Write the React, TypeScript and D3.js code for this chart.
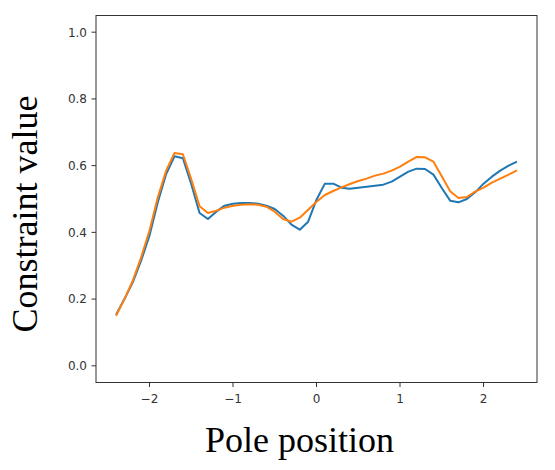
import React from "react";
import * as d3 from "d3";

const xs: number[] = [
  -2.4, -2.3, -2.2, -2.1, -2.0, -1.9, -1.8, -1.7, -1.6, -1.5, -1.4, -1.3, -1.2,
  -1.1, -1.0, -0.9, -0.8, -0.7, -0.6, -0.5, -0.4, -0.3, -0.2, -0.1, 0.0, 0.1,
  0.2, 0.3, 0.4, 0.5, 0.6, 0.7, 0.8, 0.9, 1.0, 1.1, 1.2, 1.3, 1.4, 1.5, 1.6,
  1.7, 1.8, 1.9, 2.0, 2.1, 2.2, 2.3, 2.4,
];

const blueSeries: number[] = [
  0.153, 0.2, 0.25, 0.315, 0.39, 0.49, 0.575, 0.628, 0.622, 0.545, 0.458, 0.44,
  0.462, 0.48, 0.486, 0.488, 0.488, 0.486, 0.48, 0.47, 0.45, 0.423, 0.408,
  0.432, 0.498, 0.546, 0.546, 0.534, 0.531, 0.534, 0.537, 0.54, 0.543, 0.552,
  0.567, 0.582, 0.591, 0.59, 0.573, 0.533, 0.495, 0.49, 0.5, 0.52, 0.546,
  0.567, 0.585, 0.6, 0.612,
];

const orangeSeries: number[] = [
  0.15, 0.2, 0.255, 0.325, 0.405, 0.505, 0.585, 0.638, 0.634, 0.56, 0.478,
  0.458, 0.465, 0.474, 0.48, 0.483, 0.484, 0.483, 0.477, 0.462, 0.44, 0.432,
  0.444, 0.468, 0.492, 0.512, 0.524, 0.535, 0.545, 0.554, 0.561, 0.57, 0.576,
  0.585, 0.597, 0.612, 0.626, 0.625, 0.612, 0.568, 0.523, 0.503, 0.506, 0.522,
  0.534, 0.549, 0.561, 0.573, 0.586,
];

const xTicks: number[] = [-2, -1, 0, 1, 2];
const yTicks: number[] = [0.0, 0.2, 0.4, 0.6, 0.8, 1.0];

const xLabel = "Pole position";
const yLabel = "Constraint value";

export default function App() {
  const W = 555;
  const H = 470;
  const left = 96;
  const right = 537;
  const top = 15.5;
  const bottom = 382.5;

  const x = d3.scaleLinear().domain([-2.64, 2.64]).range([left, right]);
  const y = d3.scaleLinear().domain([-0.05, 1.05]).range([bottom, top]);

  const line = d3
    .line<number>()
    .x((_, i) => x(xs[i]))
    .y((d) => y(d));

  const tickColor = "#333";
  const fmtX = (v: number) => (v < 0 ? "\u2212" + Math.abs(v) : String(v));

  return (
    <svg
      width={W}
      height={H}
      style={{ position: "absolute", left: 0, top: 0, background: "#fff" }}
    >
      <rect x={0} y={0} width={W} height={H} fill="#fff" />
      <path
        d={line(blueSeries) || ""}
        fill="none"
        stroke="#1f77b4"
        strokeWidth={2}
        strokeLinejoin="round"
      />
      <path
        d={line(orangeSeries) || ""}
        fill="none"
        stroke="#ff7f0e"
        strokeWidth={2}
        strokeLinejoin="round"
      />
      <rect
        x={left}
        y={top}
        width={right - left}
        height={bottom - top}
        fill="none"
        stroke={tickColor}
        strokeWidth={1}
      />
      {yTicks.map((t) => (
        <g key={"y" + t}>
          <line
            x1={left - 4.5}
            x2={left}
            y1={y(t)}
            y2={y(t)}
            stroke={tickColor}
            strokeWidth={1}
          />
          <text
            x={left - 9}
            y={y(t)}
            dy="0.36em"
            textAnchor="end"
            fontFamily="DejaVu Sans"
            fontSize={12}
            fill={tickColor}
          >
            {t.toFixed(1)}
          </text>
        </g>
      ))}
      {xTicks.map((t) => (
        <g key={"x" + t}>
          <line
            x1={x(t)}
            x2={x(t)}
            y1={bottom}
            y2={bottom + 4.5}
            stroke={tickColor}
            strokeWidth={1}
          />
          <text
            x={x(t)}
            y={bottom + 20}
            textAnchor="middle"
            fontFamily="DejaVu Sans"
            fontSize={12}
            fill={tickColor}
          >
            {fmtX(t)}
          </text>
        </g>
      ))}
      <text
        x={(left + right) / 2 - 17}
        y={452}
        textAnchor="middle"
        fontFamily="Liberation Serif"
        fontSize={36}
        fill="#000"
      >
        {xLabel}
      </text>
      <text
        transform={`translate(37, 214) rotate(-90)`}
        textAnchor="middle"
        fontFamily="Liberation Serif"
        fontSize={36}
        fill="#000"
      >
        {yLabel}
      </text>
    </svg>
  );
}
